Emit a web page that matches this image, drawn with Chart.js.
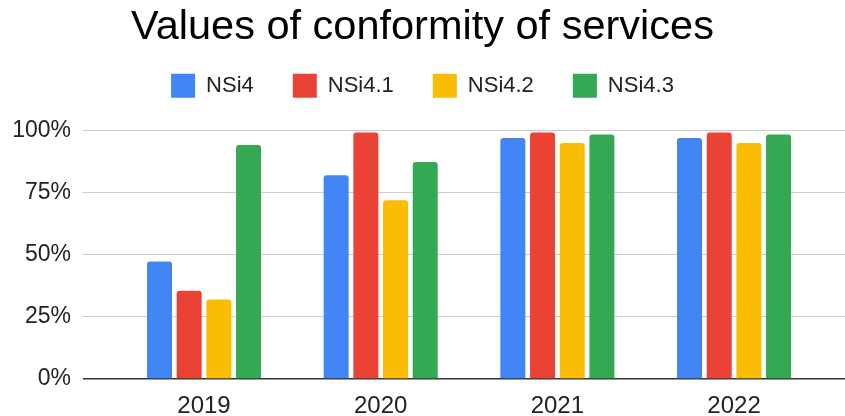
<!DOCTYPE html>
<html>
<head>
<meta charset="utf-8">
<script src="https://cdn.jsdelivr.net/npm/chart.js@4.4.1/dist/chart.umd.min.js"></script>
<style>
  html, body { margin: 0; padding: 0; background: #fff; }
  #wrap { width: 845px; height: 416px; position: relative; }
</style>
</head>
<body>
<div id="wrap"><canvas id="c"></canvas></div>
<script>
const categories = ['2019', '2020', '2021', '2022'];
const seriesNames = ['NSi4', 'NSi4.1', 'NSi4.2', 'NSi4.3'];
const nsi4  = [47.3, 82, 97, 97];
const nsi41 = [35.5, 99.3, 99.3, 99.3];
const nsi42 = [32, 72, 95, 95];
const nsi43 = [94.2, 87.4, 98.5, 98.5];
const yTicks = [0, 25, 50, 75, 100];

const colors = ['#4285F4', '#EA4335', '#FBBC04', '#34A853'];
const FONT = "'Liberation Sans', Arial, sans-serif";

const toPoints = arr => arr.map((v, i) => ({ x: i, y: v }));

const legendGap = {
  id: 'legendGap',
  beforeInit(chart) {
    const fit = chart.legend.fit;
    chart.legend.fit = function () { fit.call(this); this.height += 23; };
  }
};

new Chart(document.getElementById('c'), {
  type: 'bar',
  data: {
    datasets: [nsi4, nsi41, nsi42, nsi43].map((d, k) => ({
      label: seriesNames[k],
      data: toPoints(d),
      backgroundColor: colors[k],
      borderRadius: 3,
      categoryPercentage: 0.672,
      barPercentage: 0.842
    }))
  },
  plugins: [legendGap],
  options: {
    responsive: true,
    maintainAspectRatio: false,
    animation: false,
    layout: { padding: { left: 0, right: 0, top: 0, bottom: 0 } },
    plugins: {
      tooltip: { enabled: false },
      title: {
        display: true,
        text: 'Values of conformity of services',
        color: '#000',
        font: { family: FONT, size: 41.5, weight: 'normal', lineHeight: 0.3 },
        padding: { top: 21.8, bottom: 0.4 }
      },
      legend: {
        display: true,
        position: 'top',
        labels: {
          color: '#222',
          font: { family: FONT, size: 22 },
          boxWidth: 24,
          boxHeight: 24,
          padding: 39
        }
      }
    },
    scales: {
      x: {
        type: 'linear',
        offset: false,
        min: -0.685,
        max: 3.628,
        grid: { display: false, drawTicks: false, offset: false },
        border: { display: false },
        afterBuildTicks: axis => { axis.ticks = categories.map((c, i) => ({ value: i })); },
        afterFit: axis => { axis.height = 37; },
        ticks: {
          color: '#222',
          font: { family: FONT, size: 24, lineHeight: 0.85 },
          padding: 17,
          maxRotation: 0,
          autoSkip: false,
          callback: v => categories[v]
        }
      },
      y: {
        min: 0,
        max: 100,
        afterFit: axis => { axis.width = 83; },
        afterBuildTicks: axis => { axis.ticks = yTicks.map(v => ({ value: v })); },
        border: { display: false },
        grid: {
          drawTicks: false,
          color: ctx => ctx.tick && ctx.tick.value === 0 ? '#333' : '#cccccc',
          lineWidth: ctx => ctx.tick && ctx.tick.value === 0 ? 1.5 : 1
        },
        ticks: {
          color: '#222',
          font: { family: FONT, size: 23 },
          padding: 12,
          callback: v => v + '%'
        }
      }
    }
  }
});
</script>
</body>
</html>
